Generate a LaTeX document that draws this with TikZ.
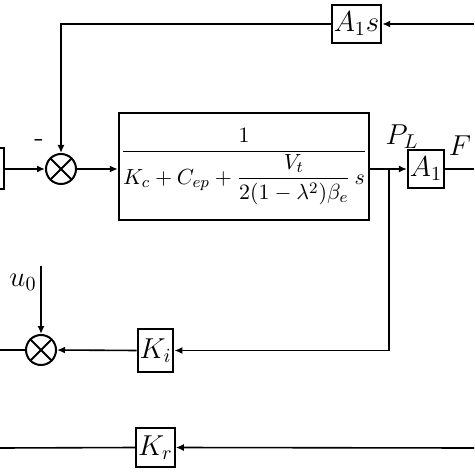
\documentclass[tikz,border=0pt]{standalone}
\usepackage{tikz}
\usepackage{amsmath}
\usetikzlibrary{positioning, arrows.meta, calc}

\begin{document}
\begin{tikzpicture}[x=0.5pt, y=-0.5pt, font=\Large,
  line width=0.8pt, >={Latex[length=4pt, width=3.5pt]},
  blk/.style={rectangle, draw, line width=1pt, inner sep=1pt},
  sumpt/.style={circle, draw, line width=1pt, minimum size=15pt, inner sep=0pt,
    path picture={\draw[line width=1pt] (path picture bounding box.north west) -- (path picture bounding box.south east)
      (path picture bounding box.south west) -- (path picture bounding box.north east);}}
]
  \clip (0,0) rectangle (474,474);

  \node[blk, minimum width=19pt, minimum height=20.5pt] (lbox) at (-15,169) {};
  \node[sumpt] (sum1) at (61,169) {};
  \node[blk, minimum width=125pt, minimum height=53.5pt, font=\fontsize{11}{13}\selectfont] (big) at (244,166.5)
    {$\dfrac{1}{K_c + C_{ep} + \dfrac{V_t}{2(1-\lambda^2)\beta_e}\,s}$};
  \node[blk, minimum width=21.5pt, minimum height=19pt] (a1s) at (356.5,24) {$A_1 s$};
  \node[blk, minimum width=17pt, minimum height=19pt] (a1) at (426,169) {$A_1$};
  \node[sumpt] (sum2) at (41,350) {};
  \node[blk, minimum width=17.5pt, minimum height=21.5pt] (ki) at (155.5,350.5) {$K_i$};
  \node[blk, minimum width=18.5pt, minimum height=19.5pt] (kr) at (155.5,447.5) {$K_r$};

  \coordinate (br) at (389,169);
  \coordinate (topin) at (474,24);
  \coordinate (fout) at (474,169);
  \coordinate (u0in) at (41,266);
  \coordinate (leftout) at (0,350);
  \coordinate (botin) at (474,448);
  \coordinate (botout) at (0,448);

  \node (minus) at (39,143) {-};
  \node (pl) at (402,137) {$P_L$};
  \node (f) at (460,146) {$F$};
  \node (u0) at (23,282) {$u_0$};

  \draw[->] (topin) -- (a1s.east);
  \draw[->] (a1s.west) -| (sum1.north);
  \draw[->] (lbox.east |- sum1) -- (sum1.west);
  \draw[->] (sum1.east) -- (sum1 -| big.west);
  \draw (sum1 -| big.east) -- (br);
  \draw[->] (br) -- (a1.west);
  \draw (a1.east) -- (fout);
  \draw[->] (br) |- (ki.east);
  \draw[->] (ki.west) -- (sum2.east);
  \draw (sum2.west) -- (leftout);
  \draw[->] (u0in) -- (sum2.north);
  \draw[->] (botin) -- (kr.east);
  \draw (kr.west) -- (botout);
\end{tikzpicture}
\end{document}
